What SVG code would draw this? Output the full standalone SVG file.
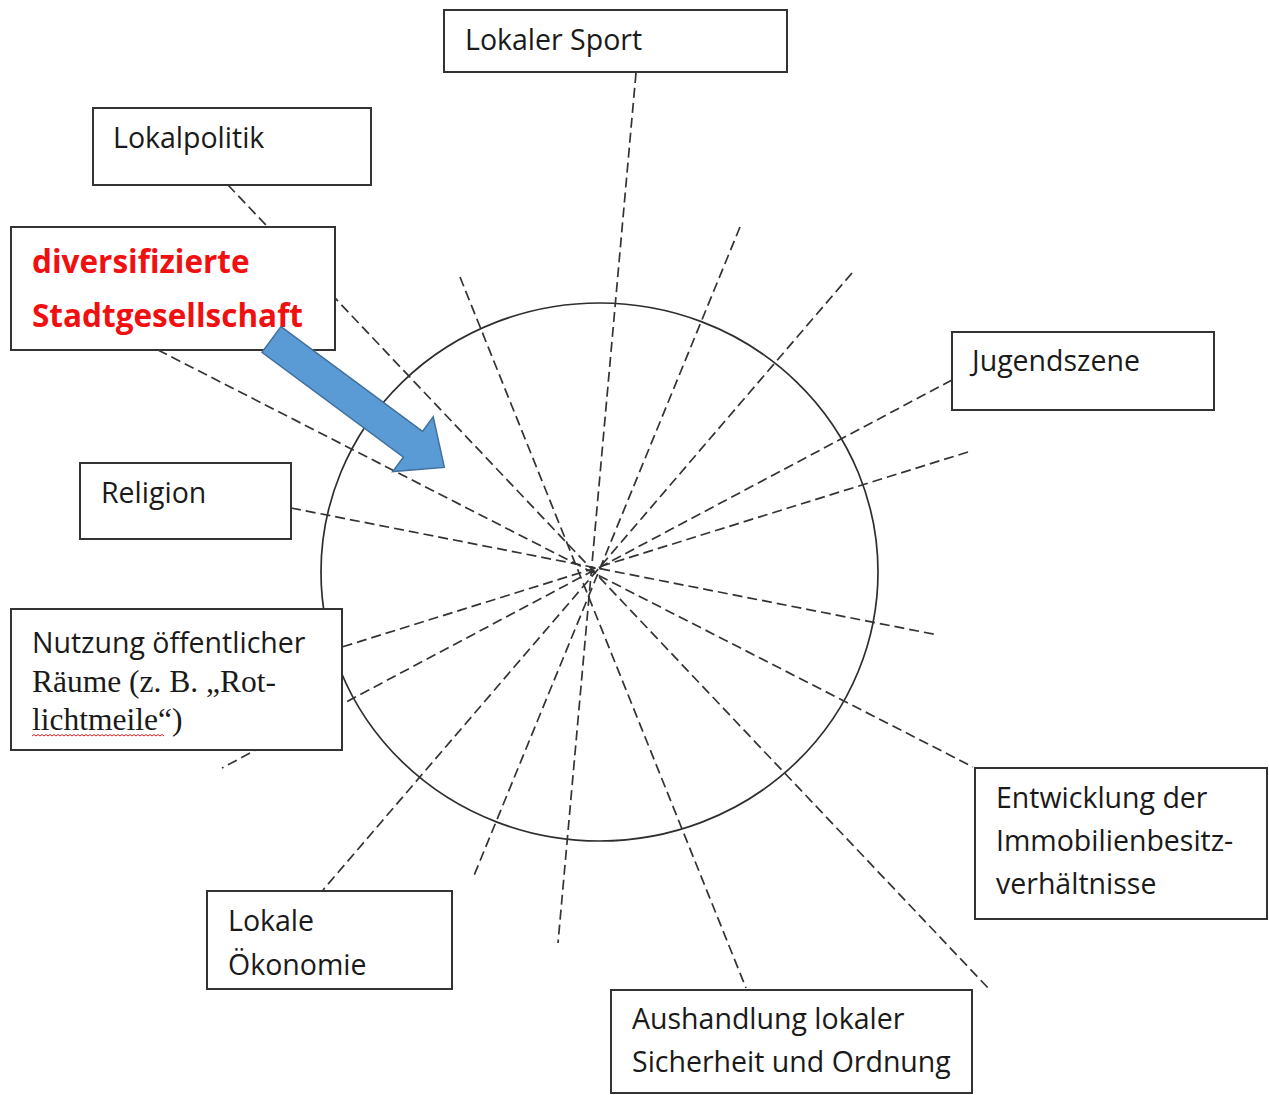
<svg xmlns="http://www.w3.org/2000/svg" width="1269" height="1095" viewBox="0 0 1269 1095">
<style>
.bg{fill:#ffffff}
.dash{stroke:#333333;stroke-width:1.7;stroke-dasharray:10 5;fill:none}
.ring{fill:none;stroke:#2e2e2e;stroke-width:1.7}
.box{fill:#ffffff;stroke:#333333;stroke-width:2}
.t{font-family:"Open Sans","Noto Sans",sans-serif;font-size:28.5px;fill:#1a1a1a}
.serif{font-family:"Liberation Serif","Times New Roman",serif;font-size:31.5px;fill:#1a1a1a}
.red{font-family:"Open Sans","Noto Sans",sans-serif;font-size:31.5px;font-weight:bold;fill:#f01010}
</style>
<rect class="bg" x="0" y="0" width="1269" height="1095"/>
<ellipse class="ring" cx="599.5" cy="572" rx="278.5" ry="269"/>
<g id="connectors">
<line class="dash" x1="636" y1="73" x2="558" y2="943"/>
<line class="dash" x1="740" y1="227" x2="473" y2="878"/>
<line class="dash" x1="852" y1="273" x2="323" y2="890"/>
<line class="dash" x1="460" y1="277" x2="746" y2="988"/>
<line class="dash" x1="228" y1="185" x2="990" y2="990"/>
<line class="dash" x1="158" y1="350" x2="973" y2="767"/>
<line class="dash" x1="952" y1="380" x2="222" y2="768"/>
<line class="dash" x1="968" y1="452" x2="342" y2="647"/>
<line class="dash" x1="291" y1="508" x2="938" y2="635"/>
</g>
<g id="lokaler-sport">
<rect class="box" x="444" y="10" width="343" height="62"/>
<text class="t" x="465" y="50">Lokaler Sport</text>
</g>
<g id="lokalpolitik">
<rect class="box" x="93" y="108" width="278" height="77"/>
<text class="t" x="113" y="148">Lokalpolitik</text>
</g>
<g id="diversifizierte-stadtgesellschaft">
<rect class="box" x="11" y="227" width="324" height="123"/>
<text class="red" x="32" y="273">diversifizierte</text>
<text class="red" x="32" y="327">Stadtgesellschaft</text>
</g>
<g id="jugendszene">
<rect class="box" x="952" y="332" width="262" height="78"/>
<text class="t" x="972" y="371">Jugendszene</text>
</g>
<g id="religion">
<rect class="box" x="80" y="463" width="211" height="76"/>
<text class="t" x="101" y="503">Religion</text>
</g>
<g id="nutzung">
<rect class="box" x="11" y="609" width="331" height="141"/>
<text class="t" x="32" y="653">Nutzung öffentlicher</text>
<text class="serif" x="32" y="692">Räume (z. B. „Rot-</text>
<text class="serif" x="32" y="730">lichtmeile“)</text>
<path d="M32 736 l2 -1.5 l2 1.5 l2 -1.5 l2 1.5 l2 -1.5 l2 1.5 l2 -1.5 l2 1.5 l2 -1.5 l2 1.5 l2 -1.5 l2 1.5 l2 -1.5 l2 1.5 l2 -1.5 l2 1.5 l2 -1.5 l2 1.5 l2 -1.5 l2 1.5 l2 -1.5 l2 1.5 l2 -1.5 l2 1.5 l2 -1.5 l2 1.5 l2 -1.5 l2 1.5 l2 -1.5 l2 1.5 l2 -1.5 l2 1.5 l2 -1.5 l2 1.5 l2 -1.5 l2 1.5 l2 -1.5 l2 1.5 l2 -1.5 l2 1.5 l2 -1.5 l2 1.5 l2 -1.5 l2 1.5 l2 -1.5 l2 1.5 l2 -1.5 l2 1.5 l2 -1.5 l2 1.5 l2 -1.5 l2 1.5 l2 -1.5 l2 1.5 l2 -1.5 l2 1.5 l2 -1.5 l2 1.5 l2 -1.5 l2 1.5 l2 -1.5 l2 1.5 l2 -1.5 l2 1.5 l2 -1.5 l2 1.5" fill="none" stroke="#d42020" stroke-width="1"/>
</g>
<g id="lokale-oekonomie">
<rect class="box" x="207" y="891" width="245" height="98"/>
<text class="t" x="228" y="931">Lokale</text>
<text class="t" x="228" y="975">Ökonomie</text>
</g>
<g id="entwicklung">
<rect class="box" x="975" y="768" width="292" height="151"/>
<text class="t" x="996" y="808">Entwicklung der</text>
<text class="t" x="996" y="851">Immobilienbesitz-</text>
<text class="t" x="996" y="894">verhältnisse</text>
</g>
<g id="aushandlung">
<rect class="box" x="611" y="990" width="361" height="103"/>
<text class="t" x="632" y="1029">Aushandlung lokaler</text>
<text class="t" x="632" y="1072">Sicherheit und Ordnung</text>
</g>
<g id="arrow" transform="translate(271.5 339.5) rotate(36.5)">
<polygon points="0,-16 176,-16 176,-34 215,0 176,34 176,16 0,16" fill="#5b9bd5" stroke="#41719c" stroke-width="1.5"/>
</g>
</svg>
